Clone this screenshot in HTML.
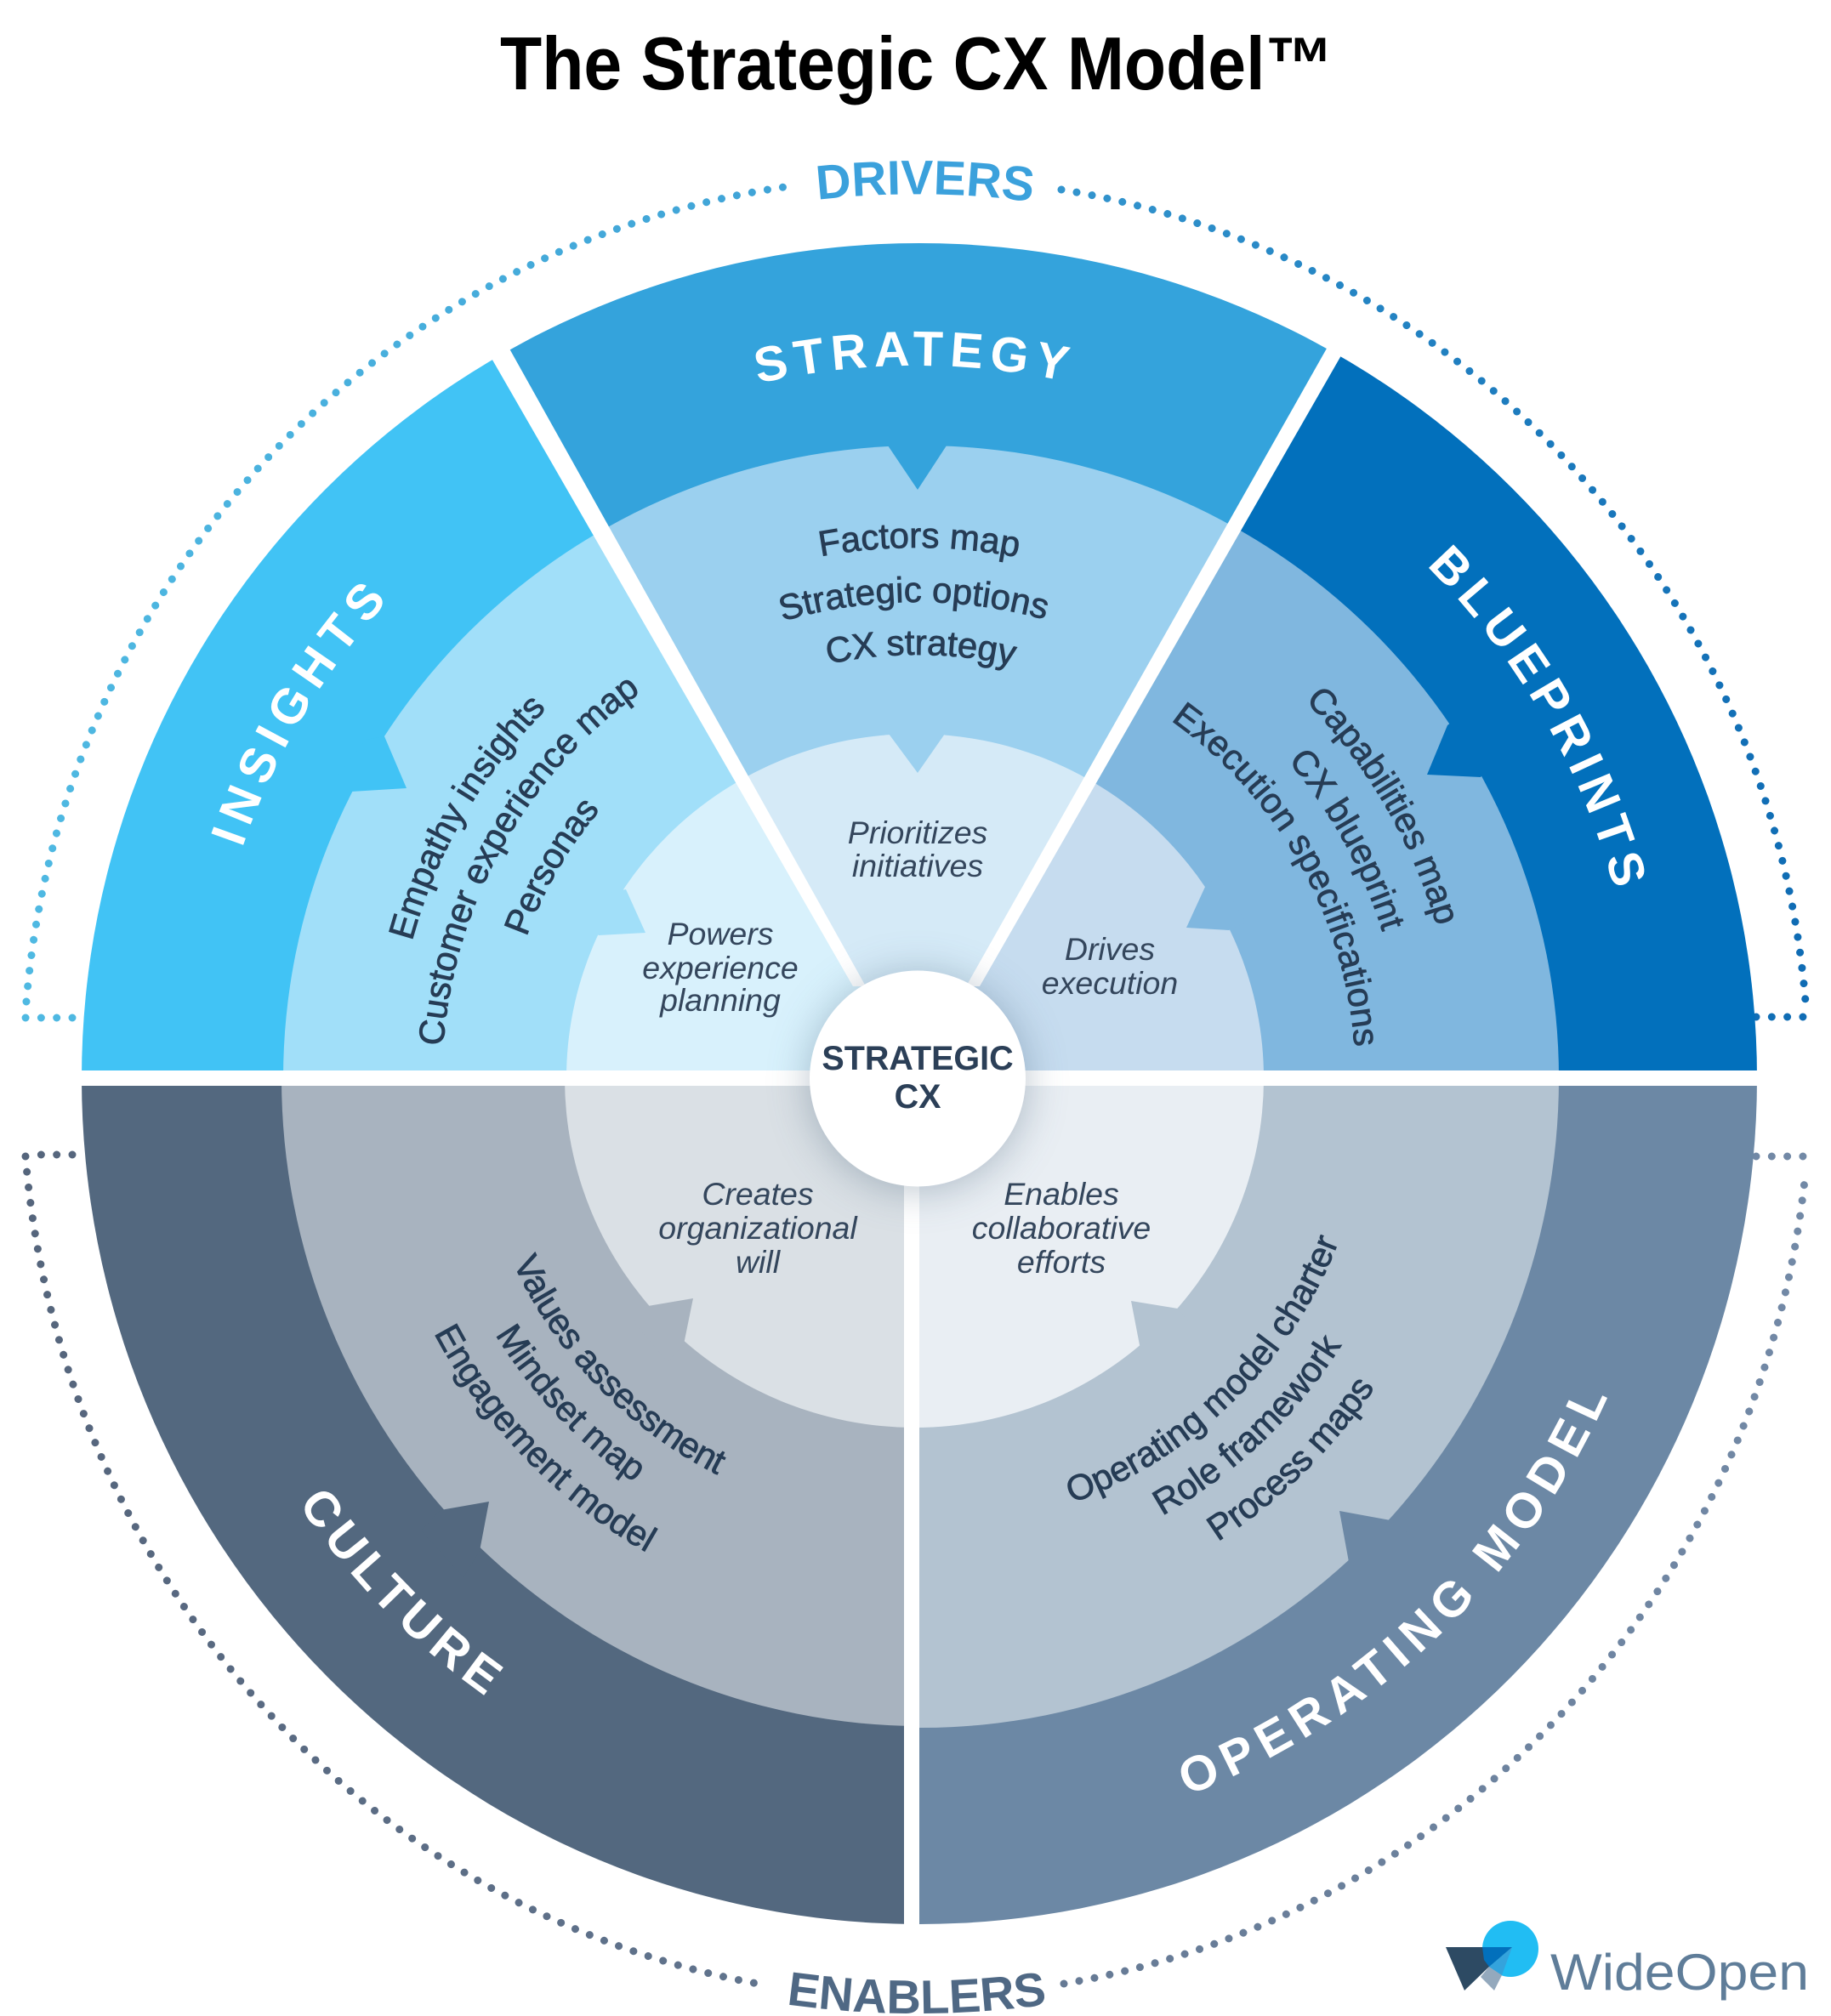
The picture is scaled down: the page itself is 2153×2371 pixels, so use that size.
<!DOCTYPE html>
<html lang="en">
<head>
<meta charset="utf-8">
<title>The Strategic CX Model</title>
<style>
html,body{margin:0;padding:0;background:#fff;width:2153px;height:2371px;overflow:hidden}
svg{display:block}
text{font-family:"Liberation Sans",sans-serif}
.h{font-weight:700;font-size:58px;fill:#fff;text-anchor:middle}
.l{font-size:42px;fill:#263c55;stroke:#263c55;stroke-width:.8px;text-anchor:middle}
.i{font-size:37.5px;font-style:italic;fill:#34465c;text-anchor:middle}
.c{font-size:39.5px;font-weight:700;fill:#2b3f57;text-anchor:middle}
.d{fill:none;stroke-width:9;stroke-linecap:round;stroke-dasharray:.01 18.3}
</style>
</head>
<body>
<svg width="2153" height="2371" viewBox="0 0 2153 2371" xmlns="http://www.w3.org/2000/svg">
<defs>
<clipPath id="cI"><polygon points="1076,1268 345,0 0,0 0,1268"/></clipPath>
<clipPath id="cS"><polygon points="1076,1268 345,0 1812,0"/></clipPath>
<clipPath id="cB"><polygon points="1076,1268 1812,0 2153,0 2153,1268"/></clipPath>
<clipPath id="cC"><rect x="0" y="1268" width="1072" height="1103"/></clipPath>
<clipPath id="cO"><rect x="1072" y="1268" width="1081" height="1103"/></clipPath>
<linearGradient id="gT" gradientUnits="userSpaceOnUse" x1="30" y1="0" x2="2120" y2="0">
<stop offset="0" stop-color="#4fb9e2"/><stop offset=".45" stop-color="#3fa2d6"/><stop offset="1" stop-color="#0f6cb4"/>
</linearGradient>
<linearGradient id="gB" gradientUnits="userSpaceOnUse" x1="30" y1="0" x2="2120" y2="0">
<stop offset="0" stop-color="#55657c"/><stop offset="1" stop-color="#7289a6"/>
</linearGradient>
<path id="t838" d="M240 1268A838 838 0 0 1 1916 1268"/>
<path id="t850" d="M228 1268A850 850 0 0 1 1928 1268"/>
<path id="t1040" d="M38 1268A1040 1040 0 0 1 2118 1268"/>
<path id="t624" d="M454 1268A624 624 0 0 1 1702 1268"/>
<path id="t560" d="M518 1268A560 560 0 0 1 1638 1268"/>
<path id="t498" d="M580 1268A498 498 0 0 1 1576 1268"/>
<path id="t615" d="M463 1268A615 615 0 0 1 1693 1268"/>
<path id="t558" d="M520 1268A558 558 0 0 1 1636 1268"/>
<path id="t488" d="M590 1268A488 488 0 0 1 1566 1268"/>
<path id="t637" d="M441 1268A637 637 0 0 1 1715 1268"/>
<path id="t574" d="M504 1268A574 574 0 0 1 1652 1268"/>
<path id="t516" d="M562 1268A516 516 0 0 1 1594 1268"/>
<path id="b880" d="M198 1268A880 890 0 0 0 1958 1268"/>
<path id="b893" d="M185 1268A893 903 0 0 0 1971 1268"/>
<path id="b1100" d="M-22 1268A1100 1100 0 0 0 2178 1268"/>
<path id="b522" d="M556 1268A522 522 0 0 0 1600 1268"/>
<path id="b580" d="M498 1268A580 580 0 0 0 1658 1268"/>
<path id="b642" d="M436 1268A642 642 0 0 0 1720 1268"/>
<path id="b532" d="M546 1268A532 532 0 0 0 1610 1268"/>
<path id="b590" d="M488 1268A590 590 0 0 0 1668 1268"/>
<path id="b650" d="M428 1268A650 650 0 0 0 1728 1268"/>
</defs>

<rect width="2153" height="2371" fill="#fff"/>

<text x="588" y="105" font-size="88" font-weight="700" fill="#000" textLength="980" lengthAdjust="spacingAndGlyphs">The Strategic CX Model™</text>

<!-- dotted brackets -->
<path class="d" stroke="url(#gT)" d="M85 1197H30"/>
<path class="d" stroke="url(#gT)" d="M31 1178A1047 1058 0 0 1 922 220"/>
<path class="d" stroke="url(#gT)" d="M1248 223A1047 1058 0 0 1 2123 1178"/>
<path class="d" stroke="url(#gT)" d="M2065 1196H2125"/>
<path class="d" stroke="url(#gB)" d="M85 1358H48"/>
<path class="d" stroke="url(#gB)" d="M30 1360A1049 1081 0 0 0 891 2333"/>
<path class="d" stroke="url(#gB)" d="M1251 2333A1049 1081 0 0 0 2123 1379"/>
<path class="d" stroke="url(#gB)" d="M2065 1360H2125"/>

<!-- INSIGHTS -->
<g clip-path="url(#cI)">
<ellipse cx="1081" cy="1268" rx="985" ry="982" fill="#41c3f5"/>
<ellipse cx="1083" cy="1268" rx="750" ry="744" fill="#a1dff9"/>
<polygon fill="#41c3f5" points="452,866 478,927 413,931 395,915 430,870"/>
<ellipse cx="1076" cy="1268" rx="410" ry="405" fill="#d8f1fc"/>
<polygon fill="#a1dff9" points="736,1046 759,1097 704,1100 690,1088 715,1050"/>
</g>
<!-- STRATEGY -->
<g clip-path="url(#cS)">
<ellipse cx="1081" cy="1268" rx="985" ry="982" fill="#34a3dc"/>
<ellipse cx="1083" cy="1268" rx="750" ry="744" fill="#9bd0ef"/>
<polygon fill="#34a3dc" points="1044,524 1042,505 1115,505 1113,524 1079,576"/>
<ellipse cx="1076" cy="1268" rx="410" ry="405" fill="#d5eaf7"/>
<polygon fill="#9bd0ef" points="1045,863 1043,845 1113,845 1111,863 1079,909"/>
</g>
<!-- BLUEPRINTS -->
<g clip-path="url(#cB)">
<ellipse cx="1081" cy="1268" rx="985" ry="982" fill="#0270bc"/>
<ellipse cx="1083" cy="1268" rx="750" ry="744" fill="#80b7df"/>
<polygon fill="#0270bc" points="1702,853 1678,911 1741,914 1765,880 1725,835"/>
<ellipse cx="1076" cy="1268" rx="410" ry="405" fill="#c6dcef"/>
<polygon fill="#80b7df" points="1417,1043 1395,1091 1445,1094 1465,1085 1432,1030"/>
</g>
<!-- CULTURE -->
<g clip-path="url(#cC)">
<ellipse cx="1081" cy="1268" rx="985" ry="995" fill="#53687f"/>
<ellipse cx="1083" cy="1268" rx="752" ry="762" fill="#a8b3bf"/>
<polygon fill="#53687f" points="518,1776 575,1766 564,1824 545,1855 495,1800"/>
<ellipse cx="1076" cy="1268" rx="412" ry="411" fill="#dae0e5"/>
<polygon fill="#a8b3bf" points="762,1536 815,1527 804,1581 785,1602 745,1555"/>
</g>
<!-- OPERATING MODEL -->
<g clip-path="url(#cO)">
<ellipse cx="1081" cy="1268" rx="985" ry="995" fill="#6c88a5"/>
<ellipse cx="1083" cy="1268" rx="750" ry="764" fill="#b3c3d1"/>
<polygon fill="#6c88a5" points="1575,1777 1635,1788 1665,1810 1615,1860 1586,1837"/>
<ellipse cx="1076" cy="1268" rx="410" ry="411" fill="#e9eef3"/>
<polygon fill="#b3c3d1" points="1330,1530 1385,1539 1402,1560 1360,1602 1340,1582"/>
</g>

<!-- white gaps -->
<polygon fill="#fff" points="557,385 585,385 1018,1160 1003,1160"/>
<polygon fill="#fff" points="1574,385 1596,385 1152,1160 1136,1160"/>
<rect x="80" y="1259" width="2000" height="18" fill="#fff"/>
<rect x="1063" y="1268" width="18" height="1010" fill="#fff"/>

<!-- centre -->
<circle cx="1079" cy="1268.5" r="127" fill="#fff" style="filter:drop-shadow(0 4px 24px rgba(40,70,100,.32))"/>
<text class="c" x="1079" y="1258">STRATEGIC</text>
<text class="c" x="1079" y="1303">CX</text>

<!-- headings -->
<text font-size="57" font-weight="700" fill="#3ba1dc" text-anchor="middle"><textPath href="#t1040" startOffset="50.3%">DRIVERS</textPath></text>
<text font-size="56" font-weight="700" fill="#4f6884" text-anchor="middle"><textPath href="#b1100" startOffset="50%">ENABLERS</textPath></text>
<text class="h" style="letter-spacing:7.5px"><textPath href="#t838" startOffset="49.9%">STRATEGY</textPath></text>
<text class="h" style="letter-spacing:9.4px"><textPath href="#t838" startOffset="17.1%">INSIGHTS</textPath></text>
<text class="h" style="letter-spacing:8.3px"><textPath href="#t850" startOffset="83.4%">BLUEPRINTS</textPath></text>
<text class="h" style="letter-spacing:7.5px"><textPath href="#b880" startOffset="24.95%">CULTURE</textPath></text>
<text class="h" style="letter-spacing:9.5px"><textPath href="#b893" startOffset="74.1%">OPERATING MODEL</textPath></text>

<!-- middle ring lists -->
<text class="l"><textPath href="#t624" startOffset="50.15%">Factors map</textPath></text>
<text class="l"><textPath href="#t560" startOffset="49.8%">Strategic options</textPath></text>
<text class="l"><textPath href="#t498" startOffset="50.3%">CX strategy</textPath></text>

<text class="l"><textPath href="#t615" startOffset="16.7%">Empathy insights</textPath></text>
<text class="l"><textPath href="#t558" startOffset="16.2%">Customer experience map</textPath></text>
<text class="l" style="letter-spacing:-.5px"><textPath href="#t488" startOffset="16.7%">Personas</textPath></text>

<text class="l"><textPath href="#t637" startOffset="83.2%">Capabilities map</textPath></text>
<text class="l"><textPath href="#t574" startOffset="83.9%">CX blueprint</textPath></text>
<text class="l" style="letter-spacing:.3px"><textPath href="#t516" startOffset="83.7%">Execution specifications</textPath></text>

<text class="l" style="letter-spacing:-.5px"><textPath href="#b522" startOffset="24.4%">Values assessment</textPath></text>
<text class="l"><textPath href="#b580" startOffset="24%">Mindset map</textPath></text>
<text class="l"><textPath href="#b642" startOffset="24.5%">Engagement model</textPath></text>

<text class="l"><textPath href="#b532" startOffset="74.7%">Operating model charter</textPath></text>
<text class="l"><textPath href="#b590" startOffset="74.2%">Role framework</textPath></text>
<text class="l" style="letter-spacing:-.5px"><textPath href="#b650" startOffset="74.7%">Process maps</textPath></text>

<!-- inner ring labels -->
<text class="i" x="1079" y="992">Prioritizes</text>
<text class="i" x="1079" y="1031">initiatives</text>
<text class="i" x="847" y="1111">Powers</text>
<text class="i" x="847" y="1151">experience</text>
<text class="i" x="847" y="1189">planning</text>
<text class="i" x="1305" y="1129">Drives</text>
<text class="i" x="1305" y="1169">execution</text>
<text class="i" x="891" y="1417">Creates</text>
<text class="i" x="891" y="1457">organizational</text>
<text class="i" x="891" y="1497">will</text>
<text class="i" x="1248" y="1417">Enables</text>
<text class="i" x="1248" y="1457">collaborative</text>
<text class="i" x="1248" y="1497">efforts</text>

<!-- logo -->
<circle cx="1776" cy="2292" r="33" fill="#21bdf3"/>
<polygon fill="#2d4a63" points="1700,2290 1778,2290 1751,2313 1722,2341"/>
<polygon fill="#94a9bd" points="1751,2313 1766,2323 1757,2341 1741,2325"/>
<polygon fill="#0270bc" points="1743,2290 1778,2290 1751,2313 1745,2305"/>
<polygon fill="#34a3dc" points="1751,2313 1778,2290 1766,2323"/>
<text x="1823" y="2340" font-size="60" fill="#5f7d99" textLength="304" lengthAdjust="spacingAndGlyphs">WideOpen</text>
</svg>
</body>
</html>
